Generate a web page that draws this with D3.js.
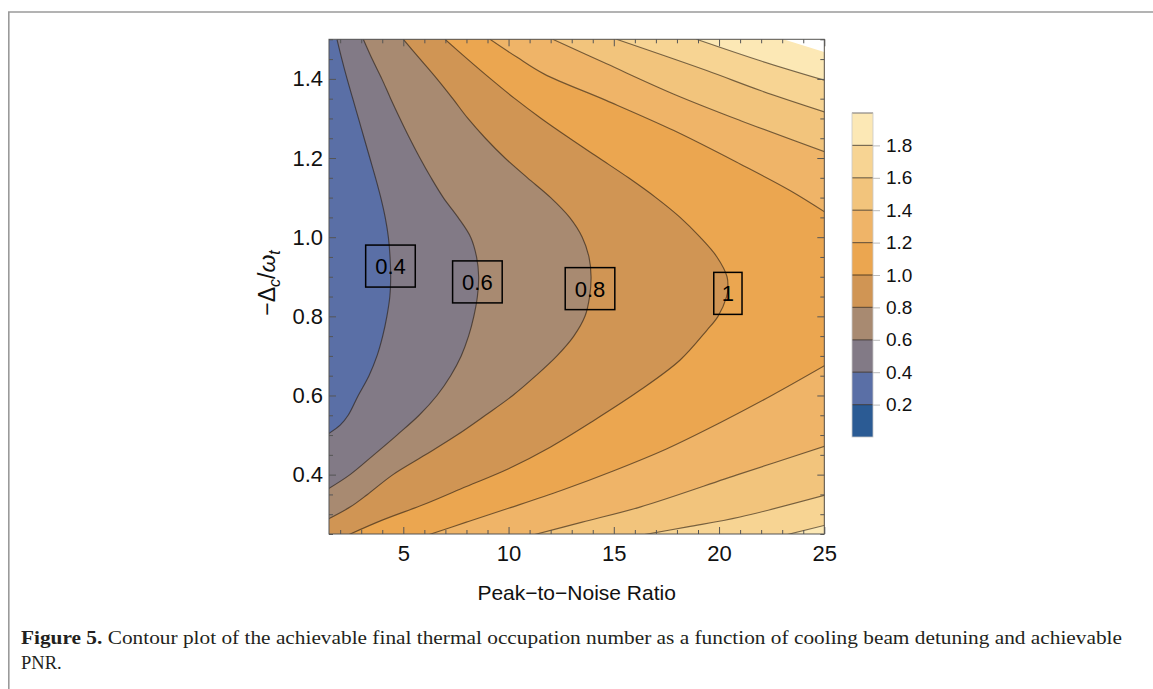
<!DOCTYPE html>
<html><head><meta charset="utf-8">
<script src="https://cdn.jsdelivr.net/npm/d3@7/dist/d3.min.js"></script>
<style>
body{margin:0;background:#fff;}
svg{display:block;}
</style>
</head><body>
<svg id="chart" width="1153" height="689"></svg>
<script>
// ---------- data ----------
const xDomain = [1.47, 25];
const yDomain = [0.25, 1.5];
const xTicks = [5, 10, 15, 20, 25];
const yTicks = [0.4, 0.6, 0.8, 1.0, 1.2, 1.4];
const barTicks = [0.2, 0.4, 0.6, 0.8, 1.0, 1.2, 1.4, 1.6, 1.8];
const barEdges = [0, 0.2, 0.4, 0.6, 0.8, 1.0, 1.2, 1.4, 1.6, 1.8, 2.0];
const bandColors = ["#2b5b94", "#5a6fa6", "#827a86", "#a88a71", "#d09554",
                    "#eba650", "#efb468", "#f2c47c", "#f7d493", "#fce8b5"];

// contour lines: [PNR, -Δc/ωt]
const c04 = [[1.85,1.50],[2.08,1.45],[2.33,1.40],[2.6,1.35],[2.87,1.30],[3.14,1.25],[3.41,1.20],[3.68,1.15],[3.93,1.10],[4.14,1.05],[4.29,1.00],[4.37,0.95],[4.40,0.90],[4.36,0.85],[4.22,0.80],[4.02,0.75],[3.75,0.70],[3.37,0.65],[2.86,0.60],[2.38,0.55],[2.0,0.525],[1.40,0.502]];
const c06 = [[3.10,1.50],[3.52,1.45],[3.98,1.40],[4.4,1.35],[4.84,1.30],[5.3,1.25],[5.79,1.20],[6.32,1.15],[6.9,1.10],[7.6,1.05],[8.2,1.00],[8.48,0.95],[8.58,0.90],[8.52,0.85],[8.35,0.80],[8.1,0.75],[7.75,0.70],[7.25,0.65],[6.6,0.60],[5.75,0.55],[4.7,0.50],[3.6,0.45],[2.47,0.40],[1.40,0.363]];
const c08 = [[5.0,1.50],[5.8,1.45],[6.6,1.40],[7.35,1.35],[8.07,1.30],[8.9,1.25],[9.83,1.20],[10.9,1.15],[12.0,1.10],[12.9,1.05],[13.5,1.00],[13.82,0.95],[13.92,0.90],[13.85,0.85],[13.63,0.80],[13.1,0.75],[12.3,0.70],[11.3,0.65],[10.2,0.60],[8.9,0.55],[7.55,0.50],[6.05,0.45],[4.51,0.40],[3.3,0.35],[2.47,0.318],[1.40,0.287]];
const c10 = [[6.98,1.50],[8.05,1.45],[9.15,1.40],[10.3,1.35],[11.55,1.30],[12.9,1.25],[14.3,1.20],[15.7,1.15],[17.0,1.10],[18.15,1.05],[19.1,1.00],[19.9,0.95],[20.38,0.90],[20.42,0.87],[20.36,0.85],[19.95,0.80],[19.41,0.764],[18.14,0.689],[16.24,0.613],[14.0,0.535],[12.0,0.47],[10.0,0.415],[8.0,0.37],[6.0,0.325],[4.0,0.285],[2.4,0.248]];
const c12a = [[9.12,1.50],[10.39,1.455],[11.7,1.412],[14.66,1.345],[17.83,1.27],[21.0,1.185],[23.37,1.118],[25.1,1.061]];
const c12b = [[25.1,0.678],[22.5,0.60],[20.0,0.53],[17.5,0.465],[15.0,0.41],[12.5,0.36],[10.0,0.315],[8.0,0.28],[6.2,0.248]];
const c14a = [[12.1,1.50],[14.66,1.438],[17.83,1.362],[21.0,1.295],[25.1,1.214]];
const c14b = [[25.1,0.473],[21.0,0.402],[16.24,0.318],[13.5,0.28],[11.2,0.248]];
const c16a = [[15.13,1.50],[19.41,1.421],[22.0,1.37],[25.1,1.315]];
const c16b = [[25.1,0.349],[21.0,0.293],[18.5,0.268],[16.4,0.248]];
const c18a = [[18.93,1.50],[22.0,1.445],[25.1,1.395]];
const c18b = [[25.1,0.273],[23.2,0.248]];
const c20 = [[23.05,1.50],[25.1,1.466]];

const labelText = ["0.4", "0.6", "0.8", "1"];
const labelX = [4.39, 8.52, 13.87, 20.42];
const labelY = [0.927, 0.887, 0.870, 0.858];

// ---------- layout ----------
const svg = d3.select("#chart");
const x = d3.scaleLinear().domain(xDomain).range([329, 824.3]);
const y = d3.scaleLinear().domain(yDomain).range([534, 39.3]);
const cb = d3.scaleLinear().domain([0, 2]).range([437, 113]);
const sans = "'Liberation Sans', Arial, Helvetica, sans-serif";

// figure frame
svg.append("path").attr("d", "M8.8,689 L8.8,12 L1153,12")
  .attr("fill", "none").attr("stroke", "#9a9a9a").attr("stroke-width", 1.6);

svg.append("clipPath").attr("id", "plotclip").append("rect")
  .attr("x", x(xDomain[0])).attr("y", y(yDomain[1]))
  .attr("width", x(xDomain[1]) - x(xDomain[0])).attr("height", y(yDomain[0]) - y(yDomain[1]));

const plot = svg.append("g").attr("clip-path", "url(#plotclip)");
plot.append("rect")
  .attr("x", x(xDomain[0])).attr("y", y(yDomain[1]))
  .attr("width", x(xDomain[1]) - x(xDomain[0])).attr("height", y(yDomain[0]) - y(yDomain[1]))
  .attr("fill", bandColors[1]);

const line = d3.line().x(d => x(d[0])).y(d => y(d[1])).curve(d3.curveCatmullRom.alpha(0.5));
const X0 = xDomain[0] - 1, X1 = xDomain[1] + 1, Y0 = yDomain[0] - 0.1, Y1 = yDomain[1] + 0.1;
const corners = {BL: [X0, Y0], BR: [X1, Y0], TR: [X1, Y1], TL: [X0, Y1]};
const pieces = [
  {pts: c04, level: 0.4, close: ["BL", "BR", "TR"]},
  {pts: c06, level: 0.6, close: ["BL", "BR", "TR"]},
  {pts: c08, level: 0.8, close: ["BL", "BR", "TR"]},
  {pts: c10, level: 1.0, close: ["BR", "TR"]},
  {pts: c12a, level: 1.2, close: ["TR"]},
  {pts: c12b, level: 1.2, close: ["BR"]},
  {pts: c14a, level: 1.4, close: ["TR"]},
  {pts: c14b, level: 1.4, close: ["BR"]},
  {pts: c16a, level: 1.6, close: ["TR"]},
  {pts: c16b, level: 1.6, close: ["BR"]},
  {pts: c18a, level: 1.8, close: ["TR"]},
  {pts: c18b, level: 1.8, close: ["BR"]},
  {pts: c20, level: 2.0, close: ["TR"]}
];
function outside(p) {
  if (p[1] >= yDomain[1] - 0.005) return [p[0], p[1] + 0.05];
  if (p[1] <= yDomain[0] + 0.005) return [p[0], p[1] - 0.05];
  if (p[0] <= xDomain[0] + 0.1) return [p[0] - 1, p[1]];
  return [p[0] + 1, p[1]];
}
pieces.forEach(p => {
  const pts = p.pts;
  const a = outside(pts[0]), b = outside(pts[pts.length - 1]);
  let tail = "L" + x(b[0]) + "," + y(b[1]);
  p.close.forEach(c => { tail += "L" + x(corners[c][0]) + "," + y(corners[c][1]); });
  tail += "L" + x(a[0]) + "," + y(a[1]) + "Z";
  const idx = Math.round(p.level / 0.2);
  plot.append("path").attr("d", line(pts) + tail)
    .attr("fill", idx >= bandColors.length ? "#ffffff" : bandColors[idx])
    .attr("stroke", "none");
});
pieces.filter(p => p.level < 2).forEach(p => {
  plot.append("path").attr("d", line(p.pts))
    .attr("fill", "none").attr("stroke", "rgba(35,25,15,0.6)").attr("stroke-width", 1.15);
});

// contour labels
const lab = svg.append("g").attr("font-family", sans).attr("font-size", 22).attr("fill", "#000");
labelText.forEach((t, i) => {
  const g = lab.append("g");
  const tx = g.append("text").attr("x", x(labelX[i])).attr("y", y(labelY[i]))
    .attr("text-anchor", "middle").attr("dy", "0.36em").text(t);
  const bb = tx.node().getBBox();
  const padX = t.length > 1 ? 9.5 : 8;
  g.insert("rect", "text").attr("x", x(labelX[i]) - bb.width / 2 - padX)
    .attr("y", y(labelY[i]) - 21).attr("width", bb.width + 2 * padX).attr("height", 42)
    .attr("fill", "none").attr("stroke", "#000").attr("stroke-width", 1.5);
});

// frame + axes
const frameColor = "#555";
svg.append("rect").attr("x", x(xDomain[0])).attr("y", y(yDomain[1]))
  .attr("width", x(xDomain[1]) - x(xDomain[0])).attr("height", y(yDomain[0]) - y(yDomain[1]))
  .attr("fill", "none").attr("stroke", frameColor).attr("stroke-width", 1);

const xMinor = d3.range(2, 26, 1).filter(v => v % 5 !== 0);
const yMinor = d3.range(0.25, 1.5001, 0.05).map(v => +v.toFixed(2)).filter(v => Math.abs(Math.round(v * 5) - v * 5) > 1e-6);

function styleAxis(g) {
  g.select(".domain").remove();
  g.selectAll(".tick line").attr("stroke", frameColor);
  g.selectAll(".tick text").attr("fill", "#111").attr("font-family", sans).attr("font-size", 22);
}
svg.append("g").attr("transform", `translate(0,${y(yDomain[0])})`)
  .call(d3.axisBottom(x).tickValues(xTicks).tickFormat(d3.format("d")).tickSizeInner(-7).tickSizeOuter(0).tickPadding(11.5))
  .call(styleAxis);
svg.append("g").attr("transform", `translate(0,${y(yDomain[0])})`)
  .call(d3.axisBottom(x).tickValues(xMinor).tickFormat("").tickSizeInner(-4).tickSizeOuter(0)).call(styleAxis);
svg.append("g").attr("transform", `translate(0,${y(yDomain[1])})`)
  .call(d3.axisTop(x).tickValues(xTicks).tickFormat("").tickSizeInner(-7).tickSizeOuter(0)).call(styleAxis);
svg.append("g").attr("transform", `translate(0,${y(yDomain[1])})`)
  .call(d3.axisTop(x).tickValues(xMinor).tickFormat("").tickSizeInner(-4).tickSizeOuter(0)).call(styleAxis);

svg.append("g").attr("transform", `translate(${x(xDomain[0])},0)`)
  .call(d3.axisLeft(y).tickValues(yTicks).tickFormat(d3.format(".1f")).tickSizeInner(-7).tickSizeOuter(0).tickPadding(6))
  .call(styleAxis);
svg.append("g").attr("transform", `translate(${x(xDomain[0])},0)`)
  .call(d3.axisLeft(y).tickValues(yMinor).tickFormat("").tickSizeInner(-4).tickSizeOuter(0)).call(styleAxis);
svg.append("g").attr("transform", `translate(${x(xDomain[1])},0)`)
  .call(d3.axisRight(y).tickValues(yTicks).tickFormat("").tickSizeInner(-7).tickSizeOuter(0)).call(styleAxis);
svg.append("g").attr("transform", `translate(${x(xDomain[1])},0)`)
  .call(d3.axisRight(y).tickValues(yMinor).tickFormat("").tickSizeInner(-4).tickSizeOuter(0)).call(styleAxis);

// axis titles
svg.append("text").attr("x", (x(xDomain[0]) + x(xDomain[1])) / 2).attr("y", 600)
  .attr("text-anchor", "middle").attr("font-family", sans).attr("font-size", 21).attr("fill", "#111")
  .text("Peak\u2212to\u2212Noise Ratio");

const yt = svg.append("text").attr("transform", "translate(275,283) rotate(-90)")
  .attr("text-anchor", "middle").attr("font-family", sans).attr("font-size", 23).attr("fill", "#111");
yt.append("tspan").text("\u2212\u0394");
yt.append("tspan").attr("font-size", 16).attr("font-style", "italic").attr("dy", 5).text("c");
yt.append("tspan").attr("dy", -5).text("/");
yt.append("tspan").attr("font-style", "italic").text("\u03c9");
yt.append("tspan").attr("font-size", 16).attr("font-style", "italic").attr("dy", 5).text("t");

// colour bar
const bar = svg.append("g");
const bx = 852, bw = 21;
bar.selectAll("rect.band").data(d3.range(bandColors.length)).join("rect")
  .attr("class", "band").attr("x", bx).attr("width", bw)
  .attr("y", i => cb(barEdges[i + 1])).attr("height", i => cb(barEdges[i]) - cb(barEdges[i + 1]))
  .attr("fill", i => bandColors[i]);
bar.selectAll("line.lev").data(barTicks.concat([2.0])).join("line")
  .attr("class", "lev").attr("x1", bx).attr("x2", bx + bw)
  .attr("y1", d => cb(d)).attr("y2", d => cb(d))
  .attr("stroke", "rgba(35,25,15,0.6)").attr("stroke-width", 1.2);
bar.append("rect").attr("x", bx).attr("y", cb(2)).attr("width", bw).attr("height", cb(0) - cb(2))
  .attr("fill", "none").attr("stroke", "#c8c8c8").attr("stroke-width", 0.8);
bar.append("g").attr("transform", `translate(${bx + bw},0)`)
  .call(d3.axisRight(cb).tickValues(barTicks).tickFormat(d3.format(".1f")).tickSizeInner(7).tickSizeOuter(0).tickPadding(6))
  .call(g => {
    g.select(".domain").remove();
    g.selectAll(".tick line").attr("stroke", "#bbb");
    g.selectAll(".tick text").attr("fill", "#111").attr("font-family", sans).attr("font-size", 19);
  });

// caption
const serif = "'Liberation Serif', 'Times New Roman', serif";
const cap1 = svg.append("text").attr("x", 21).attr("y", 644).attr("font-family", serif)
  .attr("font-size", 18.5).attr("fill", "#231f20")
  .attr("textLength", 1101).attr("lengthAdjust", "spacingAndGlyphs");
cap1.append("tspan").attr("font-weight", "bold").text("Figure 5.");
cap1.append("tspan").text(" Contour plot of the achievable final thermal occupation number as a function of cooling beam detuning and achievable");
svg.append("text").attr("x", 21).attr("y", 669).attr("font-family", serif)
  .attr("font-size", 18.5).attr("fill", "#231f20").text("PNR.");
</script>
</body></html>
